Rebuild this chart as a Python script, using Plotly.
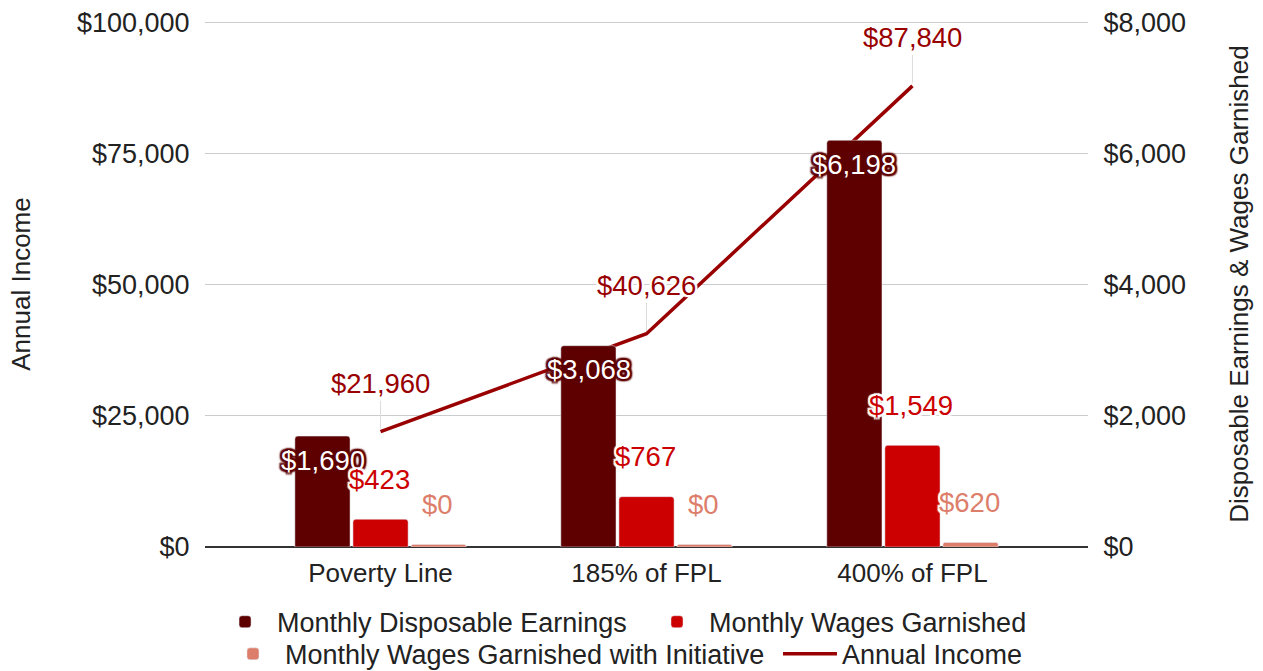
import plotly.graph_objects as go

categories = ["Poverty Line", "185% of FPL", "400% of FPL"]
annual_income = [21960, 40626, 87840]
disposable = [1690, 3068, 6198]
garnished = [423, 767, 1549]
garnished_initiative = [40, 40, 70]  # drawn heights
garnished_initiative_labels = ["$0", "$0", "$620"]

left_ticks = [0, 25000, 50000, 75000, 100000]
right_ticks = [0, 2000, 4000, 6000, 8000]

FONT = "Liberation Sans, Arial, sans-serif"
C_DARK = "#5e0000"
C_RED = "#cc0000"
C_SALMON = "#dd7e6b"
C_LINE = "#990000"
TXT = "#222222"
LBL = 27.5


def halo(color, r=2, blur=1):
    parts = []
    for dx in (-r, 0, r):
        for dy in (-r, 0, r):
            if dx == 0 and dy == 0:
                continue
            parts.append(f"{dx}px {dy}px {blur}px {color}")
    return ", ".join(parts)


fig = go.Figure()
fig.add_trace(go.Bar(x=categories, y=disposable, name="Monthly Disposable Earnings",
                     marker=dict(color=C_DARK, cornerradius=3), yaxis="y2", legend="legend"))
fig.add_trace(go.Bar(x=categories, y=garnished, name="Monthly Wages Garnished",
                     marker=dict(color=C_RED, cornerradius=3), yaxis="y2", legend="legend2"))
fig.add_trace(go.Bar(x=categories, y=garnished_initiative, name="Monthly Wages Garnished with Initiative",
                     marker=dict(color=C_SALMON, cornerradius=2), yaxis="y2", legend="legend3"))
fig.add_trace(go.Scatter(x=categories, y=annual_income, name="Annual Income", mode="lines",
                         line=dict(color=C_LINE, width=3.5), yaxis="y", legend="legend4"))

ann = []
for c, v in zip(categories, annual_income):
    ann.append(dict(x=c, y=v, xref="x", yref="y", text=f"${v:,}", showarrow=True,
                    ax=0, ay=-48, arrowhead=0, arrowwidth=1, arrowcolor="#dcdcdc", standoff=3,
                    font=dict(family=FONT, size=LBL, color=C_LINE, shadow=halo("white", 2, 1))))
for c, v in zip(categories, disposable):
    ann.append(dict(x=c, y=v, xref="x", yref="y2", text=f"${v:,}", showarrow=False,
                    xshift=-58, yshift=-24, yanchor="middle",
                    font=dict(family=FONT, size=LBL, color="white", shadow=halo(C_DARK, 2, 1.5))))
for c, v in zip(categories, garnished):
    ann.append(dict(x=c, y=v, xref="x", yref="y2", text=f"${v:,}", showarrow=False,
                    xshift=-1, yshift=40, yanchor="middle",
                    font=dict(family=FONT, size=LBL, color=C_RED, shadow=halo("white", 2, 1))))
for c, v, t in zip(categories, garnished_initiative, garnished_initiative_labels):
    ann.append(dict(x=c, y=v, xref="x", yref="y2", text=t, showarrow=False,
                    xshift=57, yshift=40, yanchor="middle",
                    font=dict(family=FONT, size=LBL, color=C_SALMON, shadow=halo("white", 2, 1))))

legend_style = dict(orientation="h", xanchor="left", yanchor="middle",
                    font=dict(size=27, color=TXT), itemwidth=54, bgcolor="rgba(0,0,0,0)")

fig.update_layout(
    width=1263, height=671,
    margin=dict(l=205, r=175, t=21, b=124, autoexpand=False),
    paper_bgcolor="white", plot_bgcolor="white",
    font=dict(family=FONT, size=26, color=TXT),
    barmode="group", bargap=0.345, bargroupgap=0.05,
    xaxis=dict(type="category", range=[-0.66, 2.66], showgrid=False,
               showline=False, zeroline=False, ticks="outside", ticklen=3, tickcolor="rgba(0,0,0,0)",
               tickfont=dict(size=26, color=TXT)),
    yaxis=dict(range=[0, 100200], tickvals=left_ticks, tickformat="$,", showgrid=True,
               gridcolor="#cccccc", gridwidth=1, zeroline=True, zerolinecolor="#333333",
               zerolinewidth=2, ticks="outside", ticklen=9, tickcolor="rgba(0,0,0,0)",
               title=dict(text="Annual Income", standoff=38, font=dict(size=26, color=TXT)),
               tickfont=dict(size=27, color=TXT)),
    yaxis2=dict(range=[0, 8016], tickvals=right_ticks, tickformat="$,", overlaying="y", side="right",
                showgrid=False, zeroline=False, ticks="outside", ticklen=9, tickcolor="rgba(0,0,0,0)",
                title=dict(text="Disposable Earnings &amp; Wages Garnished", standoff=44,
                           font=dict(size=26, color=TXT)),
                tickfont=dict(size=27, color=TXT)),
    legend=dict(x=0.0091, y=-0.1429, **legend_style),
    legend2=dict(x=0.4983, y=-0.1429, **legend_style),
    legend3=dict(x=0.0181, y=-0.2040, **legend_style),
    legend4=dict(x=0.6489, y=-0.2040, **legend_style),
    annotations=ann,
    showlegend=True,
)

# remove the page's default 8px body margin so the figure fills the window exactly
fig.write_html("out.html", config={"displayModeBar": False},
               post_script="document.body.style.margin='0';")
